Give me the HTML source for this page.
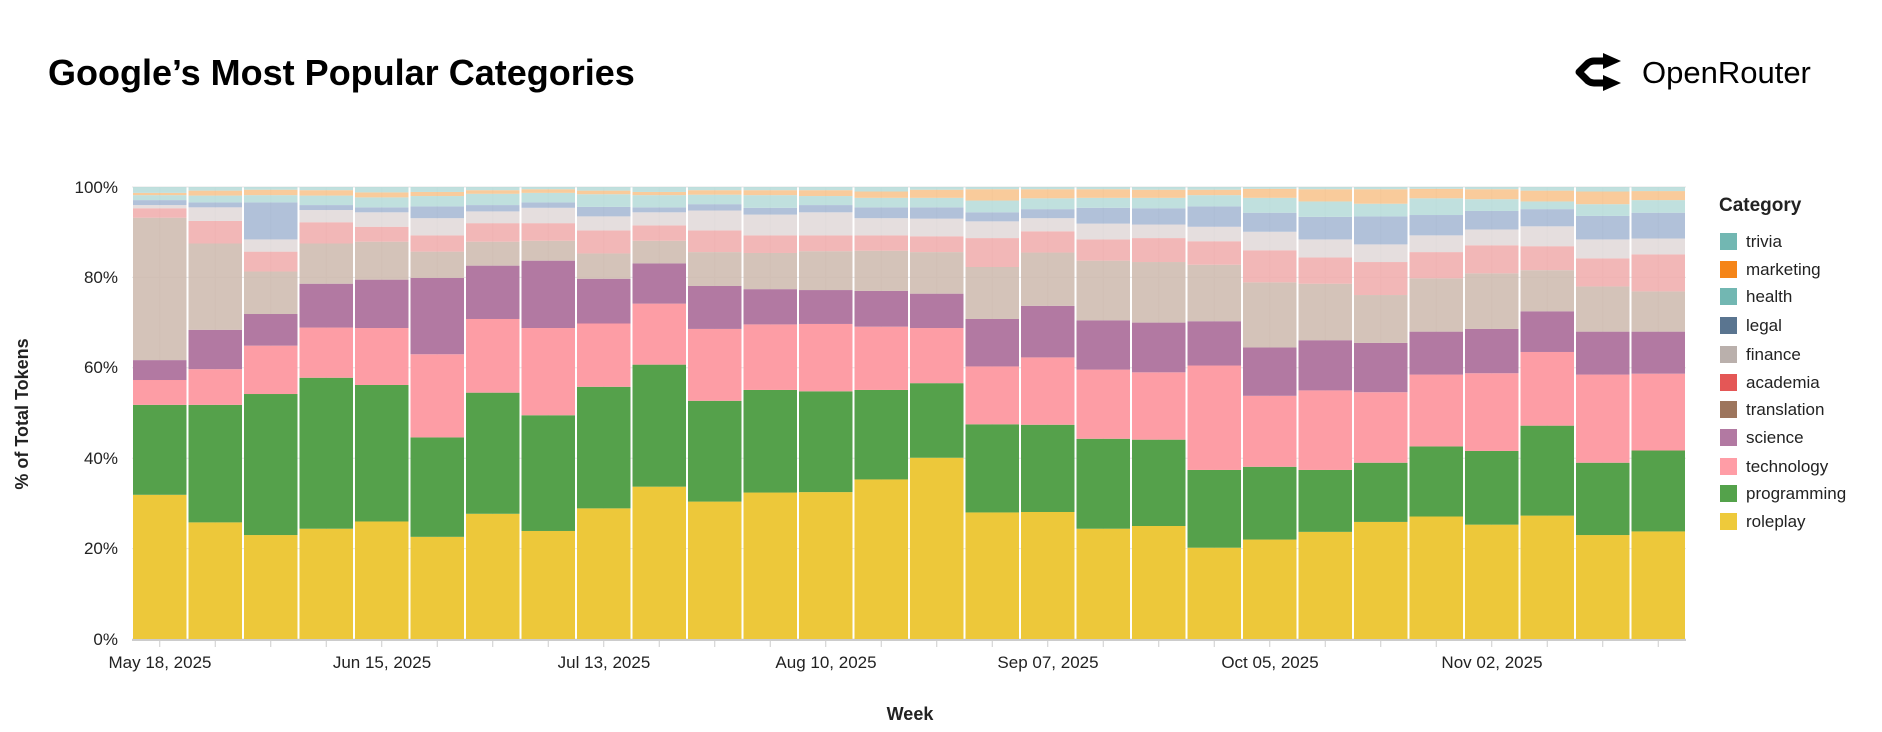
<!DOCTYPE html>
<html><head><meta charset="utf-8"><style>
html,body{margin:0;padding:0;background:#fff;width:1882px;height:732px;overflow:hidden}
svg text{font-family:"Liberation Sans",sans-serif}
</style></head><body>
<svg id="s" width="1882" height="732" xmlns="http://www.w3.org/2000/svg">
<text x="48" y="85" font-size="36" font-weight="bold" fill="#000">Google’s Most Popular Categories</text>
<path d="M1607 61 L1594 61 Q1591 61 1588 63 L1579 72 L1588 81 Q1591 83 1594 83 L1607 83" fill="none" stroke="#000" stroke-width="7" stroke-linejoin="round"/>
<path d="M1603 53 L1621 61 L1603 69 Z" fill="#000"/>
<path d="M1603 75 L1621 83 L1603 91 Z" fill="#000"/>
<text x="1642" y="83" font-size="31" fill="#000">OpenRouter</text>
<g id="grid"></g>
<g id="bars"></g>
<g font-size="17" fill="#222" text-anchor="end">
<text x="118" y="645">0%</text><text x="118" y="554">20%</text><text x="118" y="464">40%</text><text x="118" y="373">60%</text><text x="118" y="283">80%</text><text x="118" y="193">100%</text>
</g>
<text transform="translate(28,414) rotate(-90)" font-size="18" font-weight="bold" text-anchor="middle" fill="#222">% of Total Tokens</text>
<g font-size="17" fill="#222" text-anchor="middle">
<text x="160" y="668">May 18, 2025</text><text x="382" y="668">Jun 15, 2025</text><text x="604" y="668">Jul 13, 2025</text><text x="826" y="668">Aug 10, 2025</text><text x="1048" y="668">Sep 07, 2025</text><text x="1270" y="668">Oct 05, 2025</text><text x="1492" y="668">Nov 02, 2025</text>
</g>
<text x="910" y="720" font-size="18" font-weight="bold" text-anchor="middle" fill="#222">Week</text>
<text x="1719" y="211" font-size="19" font-weight="bold" fill="#222">Category</text>
<g font-size="17" fill="#222">
<rect x="1720" y="233" width="17" height="17" fill="#72B7B2"/><text x="1746" y="247">trivia</text>
<rect x="1720" y="261" width="17" height="17" fill="#F58518"/><text x="1746" y="275">marketing</text>
<rect x="1720" y="288" width="17" height="17" fill="#72B7B2"/><text x="1746" y="302">health</text>
<rect x="1720" y="317" width="17" height="17" fill="#5A7590"/><text x="1746" y="331">legal</text>
<rect x="1720" y="346" width="17" height="17" fill="#BAB0AC"/><text x="1746" y="360">finance</text>
<rect x="1720" y="374" width="17" height="17" fill="#E45756"/><text x="1746" y="388">academia</text>
<rect x="1720" y="401" width="17" height="17" fill="#9D755D"/><text x="1746" y="415">translation</text>
<rect x="1720" y="429" width="17" height="17" fill="#B279A2"/><text x="1746" y="443">science</text>
<rect x="1720" y="458" width="17" height="17" fill="#FF9DA6"/><text x="1746" y="472">technology</text>
<rect x="1720" y="485" width="17" height="17" fill="#54A24B"/><text x="1746" y="499">programming</text>
<rect x="1720" y="513" width="17" height="17" fill="#EECA3B"/><text x="1746" y="527">roleplay</text>
</g>
</svg>
<script>
var D=[
[31.9,51.8,57.3,61.7,93.2,95.3,96.0,97.1,98.2,98.7],
[25.8,51.8,59.7,68.4,87.5,92.5,95.5,96.6,98.1,99.2],
[23.0,54.2,64.9,71.9,81.3,85.7,88.4,96.6,98.2,99.4],
[24.4,57.8,68.9,78.6,87.5,92.2,94.9,96.0,98.1,99.3],
[26.0,56.2,68.8,79.5,87.9,91.2,94.4,95.5,97.7,98.8],
[22.6,44.6,63.0,79.9,85.7,89.3,93.1,95.7,98.0,98.9],
[27.7,54.5,70.8,82.6,87.9,92.0,94.6,96.0,98.5,99.3],
[23.9,49.5,68.8,83.7,88.1,92.0,95.4,96.6,98.7,99.5],
[28.9,55.8,69.8,79.7,85.3,90.4,93.5,95.6,98.4,99.2],
[33.7,60.7,74.2,83.1,88.1,91.5,94.4,95.5,98.2,98.9],
[30.4,52.7,68.6,78.1,85.6,90.4,94.8,96.2,98.3,99.3],
[32.4,55.1,69.6,77.4,85.4,89.3,93.9,95.4,98.2,99.3],
[32.5,54.8,69.7,77.2,85.8,89.3,94.4,96.0,98.0,99.3],
[35.3,55.1,69.1,77.0,85.9,89.3,93.1,95.5,97.6,99.0],
[40.1,56.6,68.8,76.4,85.6,89.1,93.0,95.5,97.6,99.4],
[28.0,47.5,60.3,70.8,82.3,88.7,92.4,94.4,97.0,99.5],
[28.1,47.4,62.3,73.7,85.5,90.2,93.1,95.1,97.5,99.5],
[24.4,44.3,59.6,70.5,83.7,88.4,91.9,95.4,97.6,99.5],
[25.0,44.1,59.0,70.0,83.4,88.7,91.7,95.3,97.6,99.4],
[20.2,37.4,60.5,70.3,82.8,88.0,91.2,95.7,98.2,99.4],
[22.0,38.1,53.8,64.5,78.9,86.0,90.1,94.3,97.6,99.6],
[23.7,37.4,55.0,66.1,78.6,84.4,88.4,93.4,96.8,99.5],
[25.9,39.0,54.6,65.5,76.1,83.4,87.3,93.5,96.3,99.5],
[27.1,42.6,58.5,68.0,79.8,85.6,89.3,93.8,97.5,99.6],
[25.3,41.6,58.8,68.6,80.9,87.1,90.6,94.7,97.3,99.5],
[27.3,47.2,63.5,72.5,81.6,86.9,91.3,95.1,96.8,99.2],
[23.0,39.0,58.5,68.0,78.0,84.2,88.4,93.6,96.2,99.0],
[23.8,41.7,58.7,68.0,76.9,85.1,88.6,94.3,97.1,99.1]];
var C=["#EDC83A","#55A14B","#FD9DA5","#B279A2","#CDB9AD","#F0AAAA","#E0D8D8","#A3B6D2","#B5DAD8","#F8C28A","#B5DAD8"];
var s="";
function Y(p){return 639-p*4.52}
var g="";
for(var k=0;k<=5;k++){var y=Y(k*20);g+='<line x1="132" x2="1686" y1="'+y+'" y2="'+y+'" stroke="#e6e6e6" stroke-width="1"/>';}
for(var i=0;i<28;i++){var cx=132+i*55.5+27.75;g+='<line x1="'+cx+'" x2="'+cx+'" y1="187" y2="639" stroke="#e6e6e6"/><line x1="'+cx+'" x2="'+cx+'" y1="640" y2="647" stroke="#ccc"/>';}
g+='<line x1="132" x2="1686" y1="640" y2="640" stroke="#ccc" stroke-width="2"/>';
document.getElementById("grid").innerHTML=g;
for(var i=0;i<28;i++){var x=132+i*55.5+1,prev=0,v=D[i].concat([100]);
for(var j=0;j<11;j++){var t=v[j];var op=j>=4?0.85:1;
s+='<rect x="'+x+'" y="'+Y(t)+'" width="53.5" height="'+(Y(prev)-Y(t))+'" fill="'+C[j]+'" fill-opacity="'+op+'"/>';prev=t;}}
document.getElementById("bars").innerHTML=s;
</script>
</body></html>
